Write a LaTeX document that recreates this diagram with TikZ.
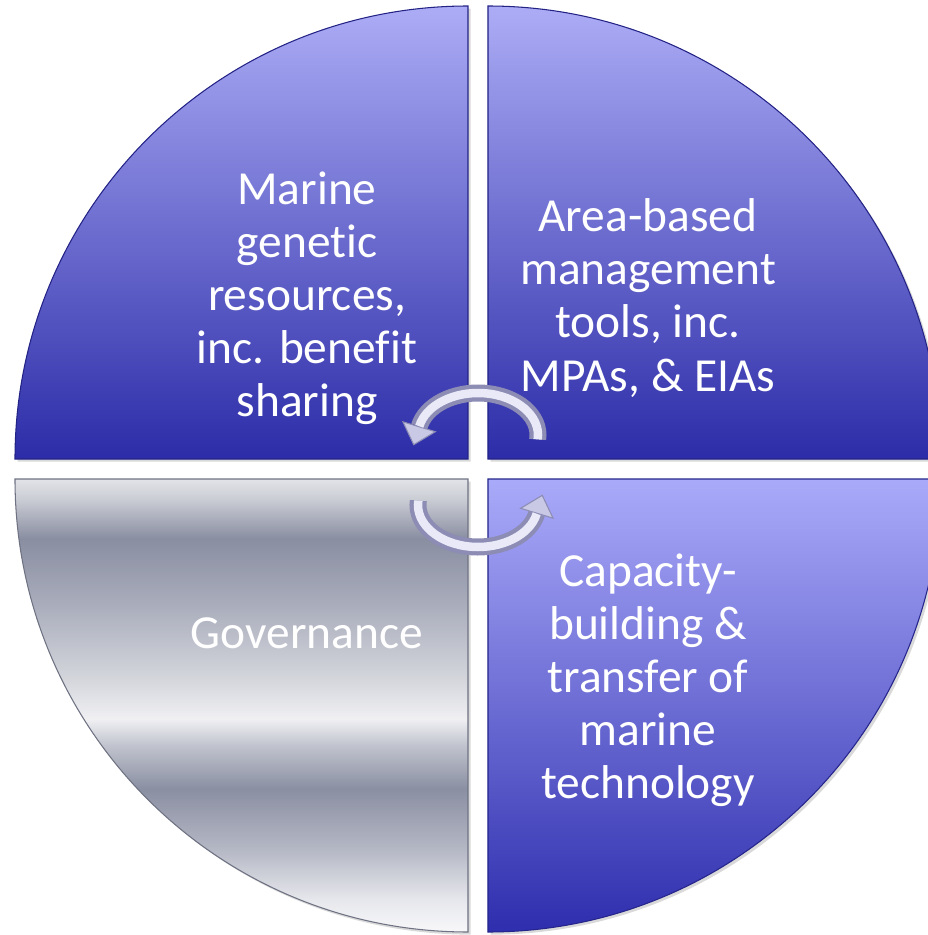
\documentclass[tikz,border=0pt]{standalone}
\usepackage{fontspec}
\setmainfont{Carlito}[Ligatures=NoCommon]
\usetikzlibrary{arrows.meta,shadows}

\definecolor{bluetop}{HTML}{ACACF6}
\definecolor{bluemid}{HTML}{6E6ED4}
\definecolor{bluebot}{HTML}{2C2CA8}
\definecolor{paletop}{HTML}{AAAAFA}
\definecolor{palemid}{HTML}{8686E0}
\definecolor{palebot}{HTML}{2E2EAE}
\definecolor{tubeedge}{HTML}{8C8CB4}
\definecolor{tubefill}{HTML}{C9C9E6}
\definecolor{tubelight}{HTML}{E9E9F8}

% grey bands of the governance quarter
\definecolor{gA}{HTML}{F8F8FA}
\definecolor{gB}{HTML}{E6E7EC}
\definecolor{gC}{HTML}{B4B7C4}
\definecolor{gD}{HTML}{8A8FA2}
\definecolor{gE}{HTML}{C2C5CF}
\definecolor{gF}{HTML}{F0F0F3}
\definecolor{gG}{HTML}{D4D6DC}
\definecolor{gH}{HTML}{A6AAB9}
\definecolor{gI}{HTML}{898EA1}
\definecolor{gJ}{HTML}{CBCDD5}
\definecolor{gK}{HTML}{E2E3E8}
\pgfdeclareverticalshading{govshade}{100bp}{color(0bp)=(gA); color(25bp)=(gA);
  color(28.6bp)=(gB); color(34.2bp)=(gC); color(40.8bp)=(gD); color(45.7bp)=(gE);
  color(48.5bp)=(gF); color(52.9bp)=(gG); color(61.8bp)=(gH); color(68.4bp)=(gI);
  color(72.8bp)=(gJ); color(75bp)=(gK); color(100bp)=(gK)}

\begin{document}
\begin{tikzpicture}
        [quarter/.style={line width=0.6pt, drop shadow={shadow xshift=1.5pt, shadow yshift=-1.5pt, opacity=0.3}},
        darkq/.style={quarter, draw=bluebot!80!black, top color=bluetop, middle color=bluemid, bottom color=bluebot},
        paleq/.style={quarter, draw=palebot!80!black, top color=paletop, middle color=palemid, bottom color=palebot},
        greyq/.style={quarter, draw=gD!80!black, shading=govshade},
        quadtext/.style={text=white, align=center, inner sep=0pt, font=\fontsize{27}{30.2}\selectfont},
        tube/.style={line width=0.34cm, draw=tubeedge},
        shine/.style={line width=0.17cm, draw=tubelight}]

        \useasboundingbox (-9.56,-9.32) rectangle (9.0,9.38);
        \clip (-9.56,-9.32) rectangle (9.0,9.38);

        % --- the four quarters ---
        \path[darkq] (-0.2,0.2) -- ++(-9.06,0) arc[start angle=180, end angle=90, radius=9.06cm] -- cycle;
        \path[darkq] (0.2,0.2) -- ++(0,9.06) arc[start angle=90, end angle=0, radius=9.06cm] -- cycle;
        \path[greyq] (-0.2,-0.2) -- ++(0,-9.06) arc[start angle=270, end angle=180, radius=9.06cm] -- cycle;
        \path[paleq] (0.2,-0.2) -- ++(9.06,0) arc[start angle=0, end angle=-90, radius=9.06cm] -- cycle;

        \node[quadtext] (mgr) at (-3.42,3.42) {Marine\\genetic\\resources,\\inc. benefit\\sharing};
        \node[quadtext] (abmt) at (3.40,3.42) {Area-based\\management\\tools, inc.\\MPAs, \& EIAs};
        \node[quadtext] (cbtt) at (3.40,-4.22) {Capacity-\\building \&\\transfer of\\marine\\technology};
        \node[quadtext] (gov) at (-3.42,-3.28) {Governance};

        % --- turning arrows in the middle ---
        \draw[tube, -{Triangle[length=0.4cm, width=0.72cm, line width=0.6pt, fill=tubefill]}, shorten >=-0.4cm]
            (0,0.68) ++(-6:1.2cm and 0.84cm) arc[start angle=-6, end angle=168, x radius=1.2cm, y radius=0.84cm];
        \draw[shine] (0,0.68) ++(-6:1.2cm and 0.84cm) arc[start angle=-6, end angle=168, x radius=1.2cm, y radius=0.84cm];

        \draw[tube, -{Triangle[length=0.4cm, width=0.72cm, line width=0.6pt, fill=tubefill]}, shorten >=-0.4cm]
            (0,-0.72) ++(174:1.2cm and 0.84cm) arc[start angle=174, end angle=348, x radius=1.2cm, y radius=0.84cm];
        \draw[shine] (0,-0.72) ++(174:1.2cm and 0.84cm) arc[start angle=174, end angle=348, x radius=1.2cm, y radius=0.84cm];
    \end{tikzpicture}
\end{document}
